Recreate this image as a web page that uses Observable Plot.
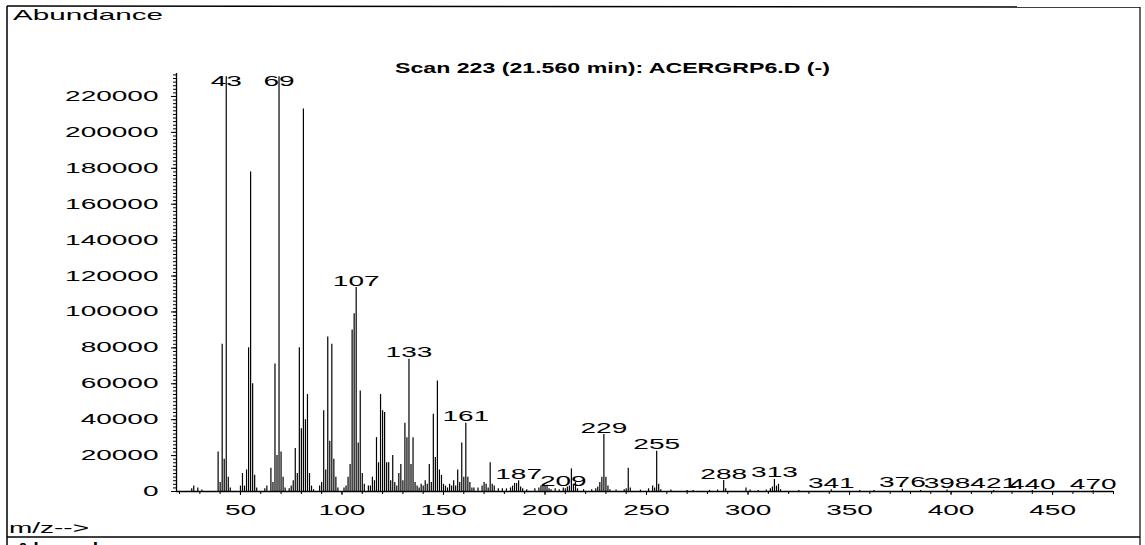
<!DOCTYPE html>
<html>
<head>
<meta charset="utf-8">
<script src="https://cdn.jsdelivr.net/npm/d3@7"></script>
<script src="https://cdn.jsdelivr.net/npm/@observablehq/plot@0.6"></script>
<style>
  html, body { margin: 0; padding: 0; background: #fff; }
  #chart { position: relative; width: 1145px; height: 545px; overflow: hidden; }
</style>
</head>
<body>
<div id="chart"></div>
<script>
// ---- data ----
const titleText = "Scan 223 (21.560 min): ACERGRP6.D (-)";
const yTitle = "Abundance";
const xTitle = "m/z-->";

const mzValues = [
  26, 27, 29, 31, 39, 40, 41, 42, 43, 44, 45, 50, 51, 52, 53, 54, 55, 56, 57, 58,
  62, 63, 65, 66, 67, 68, 69, 70, 71, 72, 74, 75, 76, 77, 78, 79, 80, 81, 82, 83,
  84, 85, 86, 89, 90, 91, 92, 93, 94, 95, 96, 97, 98, 101, 102, 103, 104, 105, 106, 107,
  108, 109, 110, 111, 113, 114, 115, 116, 117, 118, 119, 120, 121, 122, 123, 124, 125, 126, 127, 128,
  129, 130, 131, 132, 133, 134, 135, 136, 137, 138, 139, 140, 141, 142, 143, 144, 145, 146, 147, 148,
  149, 150, 151, 152, 153, 154, 155, 156, 157, 158, 159, 160, 161, 162, 163, 164, 165, 167, 169, 170,
  171, 172, 173, 174, 175, 177, 179, 181, 183, 184, 185, 186, 187, 188, 189, 191, 195, 197, 198, 199,
  200, 201, 202, 203, 205, 207, 209, 210, 211, 212, 213, 214, 215, 216, 219, 223, 225, 226, 227, 228,
  229, 230, 231, 232, 235, 239, 240, 241, 242, 247, 251, 253, 254, 255, 256, 257, 262, 270, 273, 281,
  285, 288, 289, 299, 301, 305, 309, 311, 312, 313, 314, 315, 316, 325, 341, 355, 362, 376, 385, 398,
  421, 440, 470
];
const abundances = [
  1500, 3000, 2000, 800, 22000, 5000, 82000, 18000, 231000, 8000, 2000, 3000, 10000, 3000, 12000, 80000, 178000, 60000, 9000, 2000,
  1500, 3000, 13000, 5000, 71000, 20000, 231000, 22000, 8000, 2000, 1500, 3000, 6000, 24000, 10000, 80000, 35000, 213000, 40000, 54000,
  10000, 3000, 1000, 3000, 5000, 45000, 12000, 86000, 28000, 82000, 18000, 8000, 2000, 2000, 3000, 8000, 15000, 90000, 99000, 113600,
  27000, 56000, 10000, 4000, 3000, 3000, 8000, 6000, 30000, 16000, 54000, 45000, 44000, 16000, 16000, 6000, 20000, 5000, 3000, 10000,
  15000, 6000, 38000, 30000, 73600, 15000, 30000, 5000, 3000, 2000, 4000, 3000, 6000, 4000, 15000, 5000, 43000, 19000, 61500, 12000,
  9000, 4000, 3000, 2000, 4000, 3000, 6000, 3000, 12000, 5000, 27000, 8000, 38000, 8000, 5000, 2000, 2000, 2000, 3000, 5000,
  4000, 2000, 16000, 4000, 3000, 1500, 1500, 1500, 2000, 3000, 4500, 4500, 6000, 2500, 1500, 1000, 1500, 2000, 3000, 4000,
  3000, 3500, 1500, 1000, 1500, 1000, 2000, 1500, 2500, 3000, 12600, 4000, 5000, 1500, 1000, 1000, 1500, 2500, 5000, 8000,
  31700, 8000, 3000, 1000, 800, 1000, 1500, 13000, 2000, 800, 1500, 3000, 2000, 22400, 4000, 1000, 800, 600, 500, 600,
  800, 6100, 1500, 2000, 800, 600, 800, 1500, 2500, 6700, 3000, 4000, 1000, 500, 1000, 600, 500, 1200, 500, 800,
  600, 500, 400
];
const labeledMz = [43, 69, 107, 133, 161, 187, 209, 229, 255, 288, 313, 341, 376, 398, 421, 440, 470];

const xMajorTicks = [50, 100, 150, 200, 250, 300, 350, 400, 450];
const xMinorTicks = d3.range(20, 481, 10);
const yMajorTicks = [0, 20000, 40000, 60000, 80000, 100000, 120000, 140000, 160000, 180000, 200000, 220000];
const yMinorTicks = d3.range(0, 232001, 2000);

const mzDomain = [18.5, 480];
const abundanceDomain = [0, 232800];
const labelCap = 225000;

// ---- build ----
const peaks = mzValues.map((mz, i) => ({mz, ab: abundances[i]}));
const abOf = new Map(peaks.map(p => [p.mz, p.ab]));

const chart = Plot.plot({
  width: 1145,
  height: 545,
  marginLeft: 176,
  marginRight: 32,
  marginTop: 73,
  marginBottom: 54,
  style: {fontFamily: "'Liberation Sans', Arial, sans-serif", fontSize: "14px", background: "#fff", color: "#000"},
  x: {domain: mzDomain, label: null},
  y: {domain: abundanceDomain, label: null},
  marks: [
    Plot.ruleX(peaks, {x: "mz", y1: 0, y2: "ab", stroke: "#000", strokeWidth: 1.2}),
    Plot.ruleY([abundanceDomain[0]], {stroke: "#000", strokeWidth: 1.3}),
    Plot.ruleX([mzDomain[0]], {stroke: "#000", strokeWidth: 1.3}),
    Plot.axisY({ticks: yMinorTicks, tickSize: 3, tickFormat: () => "", label: null}),
    Plot.axisY({ticks: yMajorTicks, tickSize: 5, tickPadding: 13, tickFormat: d => String(d), label: null, fontSize: 14}),
    Plot.axisX({ticks: xMinorTicks, tickSize: 3, tickFormat: () => "", label: null}),
    Plot.axisX({ticks: xMajorTicks, tickSize: 4, tickPadding: 10, tickFormat: d => String(d), label: null, fontSize: 14}),
    Plot.text(labeledMz, {
      x: d => d,
      y: d => Math.min(abOf.get(d) ?? 0, labelCap),
      text: d => String(d),
      lineAnchor: "bottom",
      dy: -2,
      fontSize: 14,
      fill: "#000"
    })
  ]
});

document.getElementById("chart").appendChild(chart);

const svg = d3.select(chart);

// frame of the printout
const frame = svg.append("g").attr("stroke", "#000").attr("fill", "none");
frame.append("line").attr("x1", 7).attr("x2", 1140).attr("y1", 6).attr("y2", 7).attr("stroke-width", 1.5);
frame.append("line").attr("x1", 7).attr("x2", 7).attr("y1", 6).attr("y2", 545).attr("stroke-width", 1.5);
frame.append("line").attr("x1", 1140).attr("x2", 1140).attr("y1", 7).attr("y2", 545).attr("stroke-width", 1.2);
frame.append("line").attr("x1", 7).attr("x2", 1140).attr("y1", 537).attr("y2", 537).attr("stroke-width", 1.5);

const ann = svg.append("g")
  .attr("font-family", "'Liberation Sans', Arial, sans-serif")
  .attr("text-anchor", "start")
  .attr("fill", "#000");
ann.append("text").attr("x", 13).attr("y", 20).attr("font-size", 15).attr("data-w", 150).text(yTitle);
ann.append("text").attr("x", 9).attr("y", 533).attr("font-size", 14).attr("data-w", 80).text(xTitle);
ann.append("text").attr("x", 13).attr("y", 553).attr("font-size", 15).attr("data-w", 150).text(yTitle);
ann.append("text").attr("x", 395).attr("y", 73).attr("font-size", 14).attr("font-weight", "bold").attr("data-w", 435).text(titleText);

// horizontally stretched printer lettering
svg.selectAll("text").each(function () {
  const w = this.getComputedTextLength();
  if (!(w > 0)) return;
  const target = this.hasAttribute("data-w") ? +this.getAttribute("data-w") : w * 2.0;
  this.setAttribute("textLength", target);
  this.setAttribute("lengthAdjust", "spacingAndGlyphs");
});
</script>
</body>
</html>
